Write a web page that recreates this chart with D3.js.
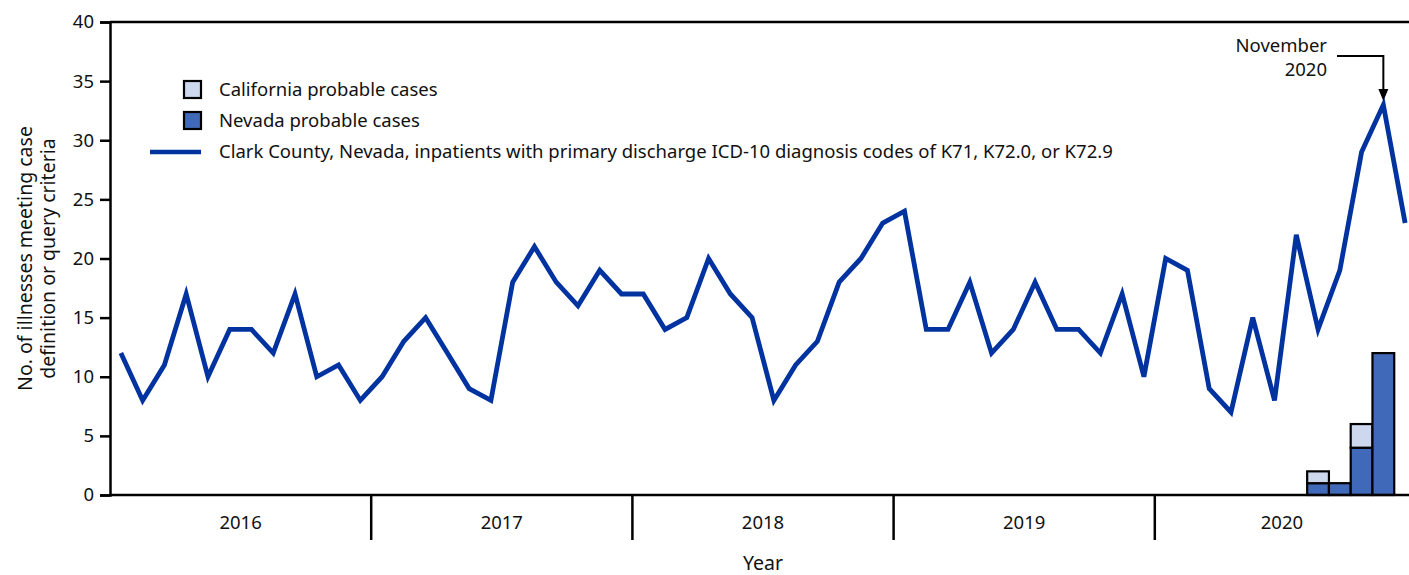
<!DOCTYPE html>
<html>
<head>
<meta charset="utf-8">
<script src="https://cdn.jsdelivr.net/npm/d3@7"></script>
<style>
  body { margin: 0; background: #fff; }
  svg { display: block; font-family: "Noto Sans", "Open Sans", sans-serif; }
</style>
</head>
<body>
<svg id="chart" width="1409" height="575"></svg>
<script>
// monthly counts, Jan 2016 - Dec 2020
var years = [2016, 2017, 2018, 2019, 2020];
var clarkCounty = [
    12, 8, 11, 17, 10, 14, 14, 12, 17, 10, 11, 8,
    10, 13, 15, 12, 9, 8, 18, 21, 18, 16, 19, 17,
    17, 14, 15, 20, 17, 15, 8, 11, 13, 18, 20, 23,
    24, 14, 14, 18, 12, 14, 18, 14, 14, 12, 17, 10,
    20, 19, 9, 7, 15, 8, 22, 14, 19, 29, 33, 23
];
// probable cases, Aug - Nov 2020 (month index 55..58)
var caseMonths = [55, 56, 57, 58];
var nevadaCases = [1, 1, 4, 12];
var californiaCases = [1, 0, 2, 0];

var yTicks = [0, 5, 10, 15, 20, 25, 30, 35, 40];

var lineColor = '#0033a0';
var nvColor = '#4169b9';
var caColor = '#cdd7ee';

var W = 1409, H = 575;
var plotLeft = 110, plotRight = 1416, plotTop = 22, plotBottom = 495;
var fs = 18.5;

var svg = d3.select('#chart');

var x = d3.scaleLinear().domain([0, 60]).range([plotLeft, plotRight]);
var y = d3.scaleLinear().domain([0, 40]).range([plotBottom, plotTop]);

// y axis
var yAxis = svg.append('g').attr('transform', 'translate(' + plotLeft + ',0)')
    .call(d3.axisLeft(y).tickValues(yTicks).tickSize(10).tickPadding(6));
yAxis.select('.domain').attr('stroke', '#000').attr('stroke-width', 2.5);
yAxis.selectAll('.tick line').attr('stroke', '#000').attr('stroke-width', 2.5);
yAxis.selectAll('.tick text').attr('font-size', fs).attr('fill', '#111')
    .attr('font-family', '"Noto Sans", sans-serif');

// top border
svg.append('line').attr('x1', plotLeft).attr('x2', W).attr('y1', plotTop).attr('y2', plotTop)
    .attr('stroke', '#000').attr('stroke-width', 2.5);

// year separators and labels
for (let i = 0; i < years.length; i++) {
    let x0 = x(i * 12), x1 = Math.min(x((i + 1) * 12), W);
    if (i > 0) {
        svg.append('line').attr('x1', x0).attr('x2', x0).attr('y1', plotBottom).attr('y2', plotBottom + 45)
            .attr('stroke', '#000').attr('stroke-width', 2.5);
    }
    svg.append('text').attr('x', (x0 + x1) / 2).attr('y', 529)
        .attr('text-anchor', 'middle').attr('font-size', fs).attr('fill', '#111')
        .text(years[i]);
}

svg.append('text').attr('x', (plotLeft + plotRight) / 2).attr('y', 570)
    .attr('text-anchor', 'middle').attr('font-size', 19.5).attr('fill', '#111').text('Year');

// y axis title
var yTitle = svg.append('text').attr('transform', 'translate(32,' + ((plotTop + plotBottom) / 2) + ') rotate(-90)')
    .attr('text-anchor', 'middle').attr('font-size', 19.5).attr('fill', '#111');
yTitle.append('tspan').attr('x', 0).attr('dy', 0).text('No. of illnesses meeting case');
yTitle.append('tspan').attr('x', 0).attr('dy', 23).text('definition or query criteria');

// stacked bars
var bw = x(1) - x(0);
for (let i = 0; i < caseMonths.length; i++) {
    let m = caseMonths[i];
    let nv = nevadaCases[i], ca = californiaCases[i];
    svg.append('rect').attr('x', x(m)).attr('width', bw)
        .attr('y', y(nv)).attr('height', y(0) - y(nv))
        .attr('fill', nvColor).attr('stroke', '#000').attr('stroke-width', 2.2);
    if (ca > 0) {
        svg.append('rect').attr('x', x(m)).attr('width', bw)
            .attr('y', y(nv + ca)).attr('height', y(nv) - y(nv + ca))
            .attr('fill', caColor).attr('stroke', '#000').attr('stroke-width', 2.2);
    }
}

// Clark County line
var line = d3.line().x(function (d, i) { return x(i + 0.5); }).y(function (d) { return y(d); });
svg.append('path').datum(clarkCounty).attr('d', line)
    .attr('fill', 'none').attr('stroke', lineColor).attr('stroke-width', 4.8)
    .attr('stroke-linejoin', 'miter');

// baseline on top of bars
svg.append('line').attr('x1', plotLeft).attr('x2', W).attr('y1', plotBottom).attr('y2', plotBottom)
    .attr('stroke', '#000').attr('stroke-width', 2.5);

// legend
var legend = [
    { type: 'box', color: caColor, label: 'California probable cases' },
    { type: 'box', color: nvColor, label: 'Nevada probable cases' },
    { type: 'line', color: lineColor, label: 'Clark County, Nevada, inpatients with primary discharge ICD-10 diagnosis codes of K71, K72.0, or K72.9' }
];
for (let i = 0; i < legend.length; i++) {
    let cy = 90 + i * 31;
    if (legend[i].type === 'box') {
        svg.append('rect').attr('x', 184).attr('y', cy - 9).attr('width', 17).attr('height', 17)
            .attr('fill', legend[i].color).attr('stroke', '#000').attr('stroke-width', 2.2);
    } else {
        svg.append('line').attr('x1', 150).attr('x2', 201).attr('y1', cy).attr('y2', cy)
            .attr('stroke', legend[i].color).attr('stroke-width', 4.5);
    }
    svg.append('text').attr('x', 219).attr('y', cy + 6).attr('font-size', fs).attr('fill', '#111')
        .text(legend[i].label);
}

// November 2020 annotation
var ax = x(58.5);
svg.append('text').attr('x', 1327).attr('y', 52).attr('text-anchor', 'end')
    .attr('font-size', fs).attr('fill', '#111').text('November');
svg.append('text').attr('x', 1327).attr('y', 76).attr('text-anchor', 'end')
    .attr('font-size', fs).attr('fill', '#111').text('2020');
svg.append('path').attr('d', 'M1337,56 H' + ax + ' V92')
    .attr('fill', 'none').attr('stroke', '#000').attr('stroke-width', 2);
svg.append('path').attr('d', 'M' + (ax - 5) + ',89 L' + (ax + 5) + ',89 L' + ax + ',101 Z')
    .attr('fill', '#000');
</script>
</body>
</html>
